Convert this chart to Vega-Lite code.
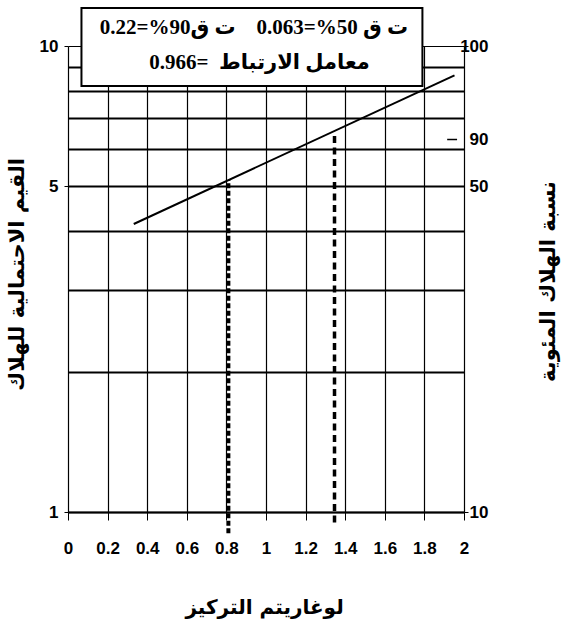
{
  "$schema": "https://vega.github.io/schema/vega-lite/v6.json",
  "width": 396,
  "height": 466,
  "autosize": "none",
  "padding": {"left": 68, "top": 46, "right": 102, "bottom": 116},
  "background": "white",
  "config": {
    "view": {"stroke": null},
    "axis": {
      "labelFont": "Liberation Sans, Arial, sans-serif",
      "labelFontSize": 17,
      "labelFontWeight": "bold",
      "labelColor": "black",
      "tickColor": "black",
      "domainColor": "black",
      "gridColor": "black",
      "gridOpacity": 1,
      "titleColor": "black",
      "titleFont": "DejaVu Sans",
      "titleFontWeight": "bold",
      "titleFontSize": 21
    }
  },
  "datasets": {
    "fit": [
      {"logconc": 0.332, "probit": 4.15},
      {"logconc": 1.952, "probit": 8.65}
    ],
    "drops": [
      {"id": "LC50", "logconc": 0.81, "from": 0.9, "to": 5.16},
      {"id": "LC90", "logconc": 1.346, "from": 0.95, "to": 6.55}
    ],
    "box": [{"x1": 0.068, "x2": 1.79, "y1": 8.21, "y2": 12.06}],
    "notes": [
      {"line": 1, "x": 0.939, "y": 10.93, "text": "\u202Bت ق 50%=0.063\u00A0\u00A0\u00A0\u00A0ت ق90%=0.22\u202C"},
      {"line": 2, "x": 0.967, "y": 9.2, "text": "\u202Bمعامل الارتباط\u00A0\u00A0=0.966\u202C"}
    ],
    "mark90": [{"x1": 1.915, "x2": 1.965, "y": 6.3}]
  },
  "layer": [
    {
      "layer": [
        {
          "data": {"name": "fit"},
          "mark": {"type": "line", "color": "black", "strokeWidth": 2},
          "encoding": {
            "x": {
              "field": "logconc",
              "type": "quantitative",
              "scale": {"domain": [0, 2], "nice": false, "zero": false},
              "axis": {
                "values": [0, 0.2, 0.4, 0.6, 0.8, 1, 1.2, 1.4, 1.6, 1.8, 2],
                "format": "~g",
                "grid": true,
                "gridWidth": 1.2,
                "tickSize": 8,
                "tickWidth": 1,
                "domain": true,
                "domainWidth": 1.5,
                "labelFlush": false,
                "labelOverlap": false,
                "labelPadding": 20,
                "title": "لوغاريتم التركيز",
                "titleX": 196,
                "titleY": 95,
                "titleBaseline": "middle",
                "titleAlign": "center",
                "titleFontSize": 20
              }
            },
            "y": {
              "field": "probit",
              "type": "quantitative",
              "scale": {"type": "log", "domain": [1, 10], "nice": false},
              "axis": {
                "orient": "left",
                "values": [1, 2, 3, 4, 5, 6, 7, 8, 9, 10],
                "grid": true,
                "gridWidth": {"condition": {"test": "datum.value == 10", "value": 1}, "value": 2},
                "domain": false,
                "tickSize": 4,
                "tickOpacity": {"condition": {"test": "datum.value == 1 || datum.value == 5 || datum.value == 10", "value": 1}, "value": 0},
                "labelExpr": "(datum.value == 1 || datum.value == 5 || datum.value == 10) ? format(datum.value, 'd') : ''",
                "labelOverlap": false,
                "labelPadding": 6,
                "title": "القيم الاحتمالية للهلاك",
                "titleAngle": -90,
                "titleX": -51,
                "titleY": 228,
                "titleBaseline": "middle",
                "titleAlign": "center"
              }
            }
          }
        },
        {
          "data": {"name": "drops"},
          "transform": [{"filter": "datum.id == 'LC50'"}],
          "mark": {"type": "rule", "color": "black", "strokeWidth": 4, "strokeDash": [5, 2.5]},
          "encoding": {
            "x": {
              "field": "logconc",
              "type": "quantitative",
              "axis": {
                "values": [0, 0.2, 0.4, 0.6, 0.8, 1, 1.2, 1.4, 1.6, 1.8, 2],
                "format": "~g",
                "grid": true,
                "gridWidth": 1.2,
                "tickSize": 8,
                "tickWidth": 1,
                "domain": true,
                "domainWidth": 1.5,
                "labelFlush": false,
                "labelOverlap": false,
                "labelPadding": 20,
                "title": "لوغاريتم التركيز",
                "titleX": 196,
                "titleY": 95,
                "titleBaseline": "middle",
                "titleAlign": "center",
                "titleFontSize": 20
              }
            },
            "y": {"field": "from", "type": "quantitative"},
            "y2": {"field": "to"}
          }
        },
        {
          "data": {"name": "drops"},
          "transform": [{"filter": "datum.id == 'LC90'"}],
          "mark": {"type": "rule", "color": "black", "strokeWidth": 3.5, "strokeDash": [7, 4.5]},
          "encoding": {
            "x": {
              "field": "logconc",
              "type": "quantitative",
              "axis": {
                "values": [0, 0.2, 0.4, 0.6, 0.8, 1, 1.2, 1.4, 1.6, 1.8, 2],
                "format": "~g",
                "grid": true,
                "gridWidth": 1.2,
                "tickSize": 8,
                "tickWidth": 1,
                "domain": true,
                "domainWidth": 1.5,
                "labelFlush": false,
                "labelOverlap": false,
                "labelPadding": 20,
                "title": "لوغاريتم التركيز",
                "titleX": 196,
                "titleY": 95,
                "titleBaseline": "middle",
                "titleAlign": "center",
                "titleFontSize": 20
              }
            },
            "y": {"field": "from", "type": "quantitative"},
            "y2": {"field": "to"}
          }
        },
        {
          "data": {"name": "mark90"},
          "mark": {"type": "rule", "color": "black", "strokeWidth": 1.5},
          "encoding": {
            "x": {
              "field": "x1",
              "type": "quantitative",
              "axis": {
                "values": [0, 0.2, 0.4, 0.6, 0.8, 1, 1.2, 1.4, 1.6, 1.8, 2],
                "format": "~g",
                "grid": true,
                "gridWidth": 1.2,
                "tickSize": 8,
                "tickWidth": 1,
                "domain": true,
                "domainWidth": 1.5,
                "labelFlush": false,
                "labelOverlap": false,
                "labelPadding": 20,
                "title": "لوغاريتم التركيز",
                "titleX": 196,
                "titleY": 95,
                "titleBaseline": "middle",
                "titleAlign": "center",
                "titleFontSize": 20
              }
            },
            "x2": {"field": "x2"},
            "y": {"field": "y", "type": "quantitative"}
          }
        },
        {
          "data": {"name": "box"},
          "mark": {"type": "rect", "fill": "white", "stroke": "black", "strokeWidth": 2},
          "encoding": {
            "x": {
              "field": "x1",
              "type": "quantitative",
              "axis": {
                "values": [0, 0.2, 0.4, 0.6, 0.8, 1, 1.2, 1.4, 1.6, 1.8, 2],
                "format": "~g",
                "grid": true,
                "gridWidth": 1.2,
                "tickSize": 8,
                "tickWidth": 1,
                "domain": true,
                "domainWidth": 1.5,
                "labelFlush": false,
                "labelOverlap": false,
                "labelPadding": 20,
                "title": "لوغاريتم التركيز",
                "titleX": 196,
                "titleY": 95,
                "titleBaseline": "middle",
                "titleAlign": "center",
                "titleFontSize": 20
              }
            },
            "x2": {"field": "x2"},
            "y": {"field": "y1", "type": "quantitative"},
            "y2": {"field": "y2"}
          }
        },
        {
          "data": {"name": "notes"},
          "mark": {
            "type": "text",
            "font": "Liberation Serif, DejaVu Sans, serif",
            "fontWeight": "bold",
            "fontSize": 21,
            "color": "black",
            "align": "center",
            "baseline": "middle"
          },
          "encoding": {
            "x": {
              "field": "x",
              "type": "quantitative",
              "axis": {
                "values": [0, 0.2, 0.4, 0.6, 0.8, 1, 1.2, 1.4, 1.6, 1.8, 2],
                "format": "~g",
                "grid": true,
                "gridWidth": 1.2,
                "tickSize": 8,
                "tickWidth": 1,
                "domain": true,
                "domainWidth": 1.5,
                "labelFlush": false,
                "labelOverlap": false,
                "labelPadding": 20,
                "title": "لوغاريتم التركيز",
                "titleX": 196,
                "titleY": 95,
                "titleBaseline": "middle",
                "titleAlign": "center",
                "titleFontSize": 20
              }
            },
            "y": {"field": "y", "type": "quantitative"},
            "text": {"field": "text"}
          }
        }
      ]
    },
    {
      "data": {"name": "fit"},
      "mark": {"type": "point", "opacity": 0},
      "encoding": {
        "y": {
          "field": "probit",
          "type": "quantitative",
          "scale": {"type": "log", "domain": [1, 10], "nice": false},
          "axis": {
            "orient": "right",
            "values": [1, 5, 6.3, 10],
            "grid": false,
            "domain": false,
            "tickSize": 4,
            "tickOpacity": {"condition": {"test": "datum.value == 1 || datum.value == 10", "value": 1}, "value": 0},
            "labelExpr": "datum.value == 10 ? '100' : datum.value == 6.3 ? '90' : datum.value == 5 ? '50' : '10'",
            "labelAlign": "right",
            "labelPadding": 20,
            "labelOverlap": false,
            "title": "نسبة الهلاك المئوية",
            "titleAngle": -90,
            "titleX": 84,
            "titleY": 235,
            "titleBaseline": "middle",
            "titleAlign": "center"
          }
        }
      }
    }
  ],
  "resolve": {"scale": {"y": "independent"}}
}
